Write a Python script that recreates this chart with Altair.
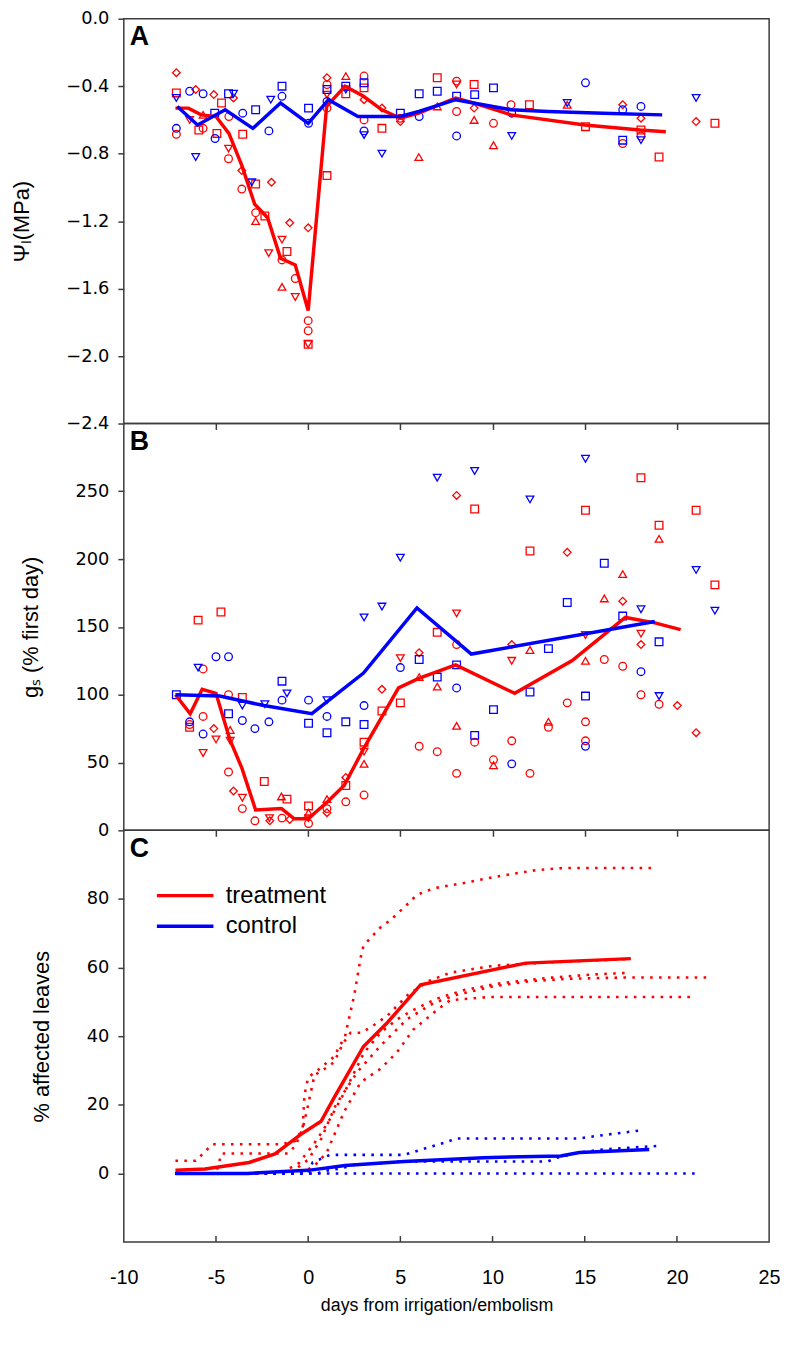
import altair as alt
import pandas as pd

RED = "#ff0000"
BLUE = "#0000ff"
FRAME = "#3c3c3c"
FONT = "Liberation Sans, Arial, Helvetica, sans-serif"
WIDE = "DejaVu Sans, Verdana, sans-serif"
NARROW = "Liberation Sans Narrow, Arial Narrow, Liberation Sans, sans-serif"

GROUPS = ["treatment", "control"]
SHAPE_NAMES = {"c": "circle", "s": "square", "d": "diamond", "u": "triangle-up", "v": "triangle-down"}
SHAPES = list(SHAPE_NAMES.values())

X_TICKS = [-10, -5, 0, 5, 10, 15, 20, 25]
X_INNER = [-5, 0, 5, 10, 15, 20]
A_TICKS = [0.0, -0.4, -0.8, -1.2, -1.6, -2.0, -2.4]
B_TICKS = [0, 50, 100, 150, 200, 250]
C_TICKS = [0, 20, 40, 60, 80]

# ---------------- Panel A : leaf water potential (MPa) ----------------
A_trt_x = [-7.15, -7.15, -7.15, -6.1, -6.43, -5.93, -5.7, -5.7, -5.12, -4.7,
           -4.95, -4.05, -4.3, -4.32, -4.32, -3.55, -3.6, -3.6, -2.85, -2.85,
           -2.85, -2.35, -1.99, -2.14, -1.42, -1.15, -1.42, -1.0, -1.42, -0.7,
           -0.7, 0.0, 0.0, 0.0, 0.0, 0.0, 1.02, 1.02, 1.02, 1.02,
           1.02, 2.04, 2.04, 3.03, 3.03, 3.03, 3.03, 4.0, 4.0, 5.0,
           5.0, 6.0, 7.0, 7.0, 8.05, 8.05, 8.05, 9.0, 9.0, 9.0,
           10.05, 10.05, 11.0, 12.0, 14.05, 15.04, 17.06, 17.06, 18.05, 18.05,
           18.05, 19.03, 21.04, 22.06]
A_trt_y = [-0.32, -0.44, -0.685, -0.42, -0.60, -0.66, -0.57, -0.65, -0.45, -0.50,
           -0.68, -0.47, -0.58, -0.77, -0.83, -0.685, -0.90, -1.01, -0.98, -1.20,
           -1.15, -1.17, -0.97, -1.39, -1.31, -1.38, -1.43, -1.21, -1.59, -1.54,
           -1.65, -1.24, -1.79, -1.85, -1.93, -1.93, -0.93, -0.35, -0.39, -0.45,
           -0.53, -0.34, -0.445, -0.34, -0.41, -0.48, -0.60, -0.53, -0.65, -0.61,
           -0.59, -0.82, -0.35, -0.52, -0.37, -0.39, -0.55, -0.39, -0.53, -0.60,
           -0.62, -0.75, -0.51, -0.51, -0.51, -0.64, -0.51, -0.74, -0.59, -0.66,
           -0.695, -0.82, -0.61, -0.62]
A_trt_s = ("dscdvsucds" "sdcvcsdcsu" "csdvvscduc" "vdccsvsdcv" "cuscsdcdsd"
           "cusucvcsdu" "cucsusdcds" "csds")

A_ctl_x = [-7.15, -7.15, -6.43, -5.7, -6.1, -5.07, -5.05, -4.32, -4.05, -3.55,
           -2.85, -3.06, -2.13, -2.03, -1.42, -1.42, 0.02, 0.02, 1.02, 1.02,
           2.04, 2.04, 3.03, 3.03, 3.03, 4.0, 5.0, 6.02, 6.02, 7.0,
           8.05, 8.05, 9.03, 10.05, 11.04, 11.04, 14.05, 15.04, 17.06, 17.06,
           18.05, 18.05, 21.04]
A_ctl_y = [-0.47, -0.65, -0.43, -0.445, -0.82, -0.56, -0.71, -0.445, -0.445, -0.56,
           -0.54, -0.97, -0.665, -0.48, -0.40, -0.46, -0.53, -0.62, -0.42, -0.49,
           -0.40, -0.42, -0.38, -0.665, -0.69, -0.80, -0.56, -0.445, -0.58, -0.43,
           -0.46, -0.695, -0.45, -0.41, -0.56, -0.695, -0.50, -0.38, -0.54, -0.72,
           -0.52, -0.72, -0.47]
A_ctl_s = "vcccvscsvc" "svcvscscsc" "svscvvsscs" "scsscvvccs" "cvv"

A_trt_mean_x = [-7.2, -6.5, -5.8, -5.0, -4.3, -3.6, -2.9, -2.2, -1.5, -0.7, 0.0, 1.0,
                2.0, 3.0, 4.0, 5.0, 6.0, 8.0, 9.0, 11.0, 15.0, 18.0, 19.4]
A_trt_mean_y = [-0.53, -0.53, -0.57, -0.58, -0.68, -0.87, -1.10, -1.18, -1.42, -1.46,
                -1.73, -0.52, -0.40, -0.46, -0.54, -0.59, -0.56, -0.47, -0.50, -0.57,
                -0.63, -0.66, -0.67]
A_ctl_mean_x = [-7.1, -6.0, -4.5, -3.0, -1.5, 0.0, 1.1, 2.7, 5.0, 6.0, 8.0, 11.0, 13.0, 16.0, 19.2]
A_ctl_mean_y = [-0.52, -0.63, -0.54, -0.65, -0.50, -0.62, -0.48, -0.58, -0.58, -0.55,
                -0.48, -0.54, -0.55, -0.56, -0.57]

# ---------------- Panel B : stomatal conductance (% first day) ----------------
B_trt_x = [-5.97, -4.73, -5.7, -6.43, -5.7, -5.12, -5.0, -5.7, -6.43, -4.32,
           -4.23, -4.23, -3.57, -4.32, -4.05, -3.57, -3.57, -2.38, -2.89, -2.08,
           -2.1, -1.15, -1.45, -1.42, -1.0, 0.02, 0.02, 0.02, 0.02, 1.02,
           1.02, 1.02, 2.04, 2.04, 2.04, 3.03, 3.03, 3.03, 3.03, 4.0,
           4.0, 5.0, 5.0, 6.02, 6.02, 6.02, 7.0, 7.0, 7.0, 8.05,
           8.05, 8.05, 8.05, 8.05, 9.03, 9.03, 10.05, 10.05, 11.04, 11.04,
           11.04, 12.03, 12.03, 12.03, 14.05, 14.05, 13.03, 13.03, 15.04, 15.04,
           15.04, 15.04, 15.04, 16.06, 16.06, 17.06, 17.06, 17.06, 18.05, 18.05,
           18.05, 18.05, 19.03, 19.03, 19.03, 20.02, 21.04, 21.04, 22.06]
B_trt_y = [155, 161, 119, 78, 84, 75, 67, 57, 76, 100,
           74, 66, 98, 43, 29, 24, 16, 36, 7, 7,
           9, 23, 25, 9, 8, 18, 13, 5, 9, 23,
           16, 13, 21, 39, 33, 26, 49, 58, 65, 104,
           88, 94, 127, 131, 113, 62, 58, 146, 106, 160,
           247, 137, 77, 42, 237, 65, 52, 48, 66, 125,
           137, 206, 133, 42, 205, 94, 80, 76, 236, 125,
           80, 66, 144, 171, 126, 189, 169, 121, 260, 145,
           137, 100, 225, 215, 93, 92, 236, 72, 181]
B_trt_s = ("sscccdvvsc" "uvscdvcscd" "vsucdsucvu" "cdcdscuvsd" "ssvduccsuv"
           "dcucsccucv" "dsucdcucsu" "ccvucudcsv" "dcsucdsds")

B_ctl_x = [-7.15, -6.43, -5.97, -5.7, -5.0, -4.32, -4.32, -3.57, -3.57, -2.89,
           -1.42, -1.15, -1.42, -2.35, -2.13, 0.02, 0.02, 1.02, 1.02, 1.02,
           2.04, 3.03, 3.03, 3.03, 4.0, 5.0, 5.0, 6.02, 7.0, 7.0,
           9.03, 8.05, 8.05, 9.03, 10.05, 11.04, 12.03, 12.03, 13.03, 14.05,
           15.04, 15.04, 15.04, 16.06, 17.06, 18.05, 18.05, 19.03, 19.03, 21.04,
           22.06]
B_ctl_y = [100, 80, 120, 71, 128, 128, 86, 81, 92, 75,
           110, 101, 96, 93, 80, 96, 79, 72, 84, 96,
           80, 78, 92, 157, 165, 201, 120, 126, 113, 260,
           265, 122, 105, 70, 89, 49, 244, 102, 134, 168,
           274, 99, 62, 197, 158, 117, 163, 139, 99, 192,
           162]
B_ctl_s = "scvcccscvc" "svcvccsscv" "sscvvvcssv" "vscsscvsss" "vscsscvsvv" "v"

B_trt_mean_x = [-7.2, -6.4, -5.75, -5.0, -4.25, -3.6, -2.85, -1.45, -0.75, 0.0, 1.05,
                1.95, 3.0, 4.9, 6.0, 8.0, 11.2, 14.3, 17.2, 18.8, 20.2]
B_trt_mean_y = [100, 86, 104, 101, 67, 46, 15, 16, 8.5, 8.5, 21,
                33, 60, 105, 112, 122, 101, 125, 157, 153, 148]
B_ctl_mean_x = [-7.2, -4.8, -2.4, 0.2, 3.0, 5.9, 8.85, 18.8]
B_ctl_mean_y = [100, 99, 92, 86, 116, 164, 130, 154]

# ---------------- Panel C : % affected leaves ----------------
C_trt_mean_x = [-7.2, -5.6, -3.2, -1.8, -0.4, 0.7, 1.4, 3.0, 4.3, 6.1, 11.8, 17.5]
C_trt_mean_y = [0.9, 1.3, 3.2, 5.7, 11.4, 15.2, 22, 37, 44, 55, 61.3, 62.6]
C_ctl_mean_x = [-7.2, -3.3, 0.0, 2.0, 5.2, 9.5, 13.7, 14.7, 18.5]
C_ctl_mean_y = [0, 0, 0.9, 2.3, 3.5, 4.6, 5.1, 6.1, 7.0]

# individual treatment plants (dotted)
R1_x = [-7.2, -6.1, -5.66, -5.2, -1.45, -0.7, -0.3, -0.2, 0.0, 0.5, 1.4, 2.0, 2.5, 2.85,
        3.0, 3.9, 4.5, 5.45, 5.9, 6.8, 8.4, 10.2, 12.35, 13.8, 18.8]
R1_y = [3.7, 3.7, 6.0, 8.5, 8.5, 9.5, 13, 23, 28, 30, 34, 40, 52, 63,
        66.4, 71.6, 74, 78.8, 81.2, 83.1, 84.6, 86.5, 88.4, 89, 89]
R2_x = [-7.2, -5.0, -4.7, -1.1, -0.7, -0.3, 0.0, 0.34, 0.9, 1.4, 1.9, 2.3, 2.9, 3.5,
        4.3, 5.4, 6.5, 7.7, 10.0, 13.0, 17.5]
R2_y = [0, 0, 5.8, 5.8, 8, 13, 20, 28.6, 30.5, 32.4, 38, 41, 41, 43,
        46, 52, 56, 58.5, 60.5, 61.5, 62.5]
R3_x = [-7.2, -0.5, 0.3, 1.0, 1.95, 2.85, 3.9, 4.8, 5.7, 7.0, 7.7, 9.8, 20.8]
R3_y = [0, 0, 2, 6, 18, 26.6, 30.4, 35.2, 41.9, 47.7, 50.5, 51.4, 51.4]
R4_x = [-7.2, -1.0, 0.0, 0.7, 1.5, 2.67, 3.92, 5.35, 6.79, 8.0, 10.0, 12.0, 14.0, 17.0, 21.9]
R4_y = [0, 0, 4, 10, 20, 29.6, 37.2, 44.9, 49.6, 52, 54.5, 56, 56.7, 57.1, 57.1]
R5_x = [-7.2, -1.5, -0.5, 0.5, 1.2, 2.0, 3.03, 3.92, 4.82, 5.72, 7.0, 8.5, 10.5, 13.0, 15.5, 17.5]
R5_y = [0, 0, 3, 10, 16, 24, 35.2, 41, 44.9, 47.7, 51, 53.5, 55.5, 57, 58, 58.5]

# individual control plants (dotted)
K1_x = [-7.2, 0.0, 0.24, 1.18, 5.2, 6.17, 7.35, 8.06, 14.7, 15.6, 17.98]
K1_y = [0, 0, 3.2, 5.4, 5.4, 7.0, 8.9, 10.2, 10.2, 10.9, 12.5]
K2_x = [-7.2, 21.0]
K2_y = [0, 0]
K3_x = [-7.2, 0.5, 1.0, 1.8, 2.5, 5.2, 13.0, 13.5, 14.7, 16.0, 18.9]
K3_y = [0, 0, 0.8, 1.5, 2.5, 3.5, 3.5, 4.6, 6.1, 7.0, 8.0]

H_A, H_B, H_C = 409, 411, 416
W = 652


def points(xs, ys, codes, group):
    return pd.DataFrame({"x": xs, "y": ys,
                         "shape": [SHAPE_NAMES[c] for c in codes],
                         "group": group})


def means(xs, ys, group):
    return pd.DataFrame({"x": xs, "y": ys, "group": group, "i": list(range(len(xs)))})


def plants(pairs):
    rows = []
    for name, (xs, ys) in pairs.items():
        for i, (a, b) in enumerate(zip(xs, ys)):
            rows.append({"x": a, "y": b, "plant": name, "i": i})
    return pd.DataFrame(rows)


color_scale = alt.Scale(domain=GROUPS, range=[RED, BLUE])
shape_scale = alt.Scale(domain=SHAPES, range=SHAPES)
x_scale = alt.Scale(domain=[-10, 25], nice=False, zero=False)

x_axis_hidden = alt.Axis(title=None, labels=False, values=X_INNER, tickSize=6, tickWidth=1.5,
                         tickColor=FRAME, domain=False, grid=False)
x_axis_c = alt.Axis(title="days from irrigation/embolism", values=X_TICKS, ticks=False,
                    domain=False, grid=False, labelExpr="toString(datum.value)",
                    labelFontSize=20, labelPadding=26, labelFlush=False, labelFont=FONT,
                    titleFont=FONT, titleFontSize=18, titleFontWeight="normal",
                    titlePadding=9, titleX=W / 2 - 10, titleAlign="center",
                    labelColor="black", titleColor="black")


def y_axis(title, values, fmt):
    return alt.Axis(title=title, values=values, format=fmt, grid=False, domain=False,
                    tickSize=6, tickWidth=1.5, tickColor=FRAME, labelFontSize=18,
                    labelFont=WIDE, labelPadding=9, labelColor="black",
                    titlePadding=33, titleFont=NARROW, titleFontSize=22,
                    titleFontWeight="normal", titleColor="black")


def letter(t):
    return alt.Chart(pd.DataFrame({"t": [t]})).mark_text(
        fontSize=27, fontWeight="bold", align="left", baseline="top", font=FONT, color="black"
    ).encode(x=alt.value(6), y=alt.value(6), text="t:N")


def scatter_line_panel(pts_df, mean_df, y_scale, yax, h, lab):
    xe = alt.X("x:Q", scale=x_scale, axis=x_axis_hidden)
    ye = alt.Y("y:Q", scale=y_scale, axis=yax)
    sc = alt.Chart(pts_df).mark_point(filled=False, size=60, strokeWidth=1.3, opacity=1).encode(
        x=xe, y=ye,
        color=alt.Color("group:N", scale=color_scale, legend=None),
        shape=alt.Shape("shape:N", scale=shape_scale, legend=None),
    )
    ln = alt.Chart(mean_df).mark_line(strokeWidth=3.5, clip=True).encode(
        x=xe, y=ye,
        color=alt.Color("group:N", scale=color_scale, legend=None),
        order="i:Q",
    )
    return alt.layer(sc, ln, letter(lab)).properties(width=W, height=h)


# Panel A
ptsA = pd.concat([points(A_trt_x, A_trt_y, A_trt_s, "treatment"),
                  points(A_ctl_x, A_ctl_y, A_ctl_s, "control")])
meanA = pd.concat([means(A_trt_mean_x, A_trt_mean_y, "treatment"),
                   means(A_ctl_mean_x, A_ctl_mean_y, "control")])
panelA = scatter_line_panel(ptsA, meanA, alt.Scale(domain=[-2.4, 0], nice=False, zero=False),
                            y_axis("Ψₗ(MPa)", A_TICKS, ".1f"), H_A, "A")

# Panel B
ptsB = pd.concat([points(B_trt_x, B_trt_y, B_trt_s, "treatment"),
                  points(B_ctl_x, B_ctl_y, B_ctl_s, "control")])
meanB = pd.concat([means(B_trt_mean_x, B_trt_mean_y, "treatment"),
                   means(B_ctl_mean_x, B_ctl_mean_y, "control")])
panelB = scatter_line_panel(ptsB, meanB, alt.Scale(domain=[0, 300], nice=False),
                            y_axis("gₛ (% first day)", B_TICKS, "d"), H_B, "B")

# Panel C
yC_scale = alt.Scale(domain=[-20, 100], nice=False, zero=False)
yC_axis = y_axis("% affected leaves", C_TICKS, "d")
xC = alt.X("x:Q", scale=x_scale, axis=x_axis_c)
yC = alt.Y("y:Q", scale=yC_scale, axis=yC_axis)

red_plants = plants({"r1": (R1_x, R1_y), "r2": (R2_x, R2_y), "r3": (R3_x, R3_y),
                     "r4": (R4_x, R4_y), "r5": (R5_x, R5_y)})
blue_plants = plants({"k1": (K1_x, K1_y), "k2": (K2_x, K2_y), "k3": (K3_x, K3_y)})
meanC = pd.concat([means(C_trt_mean_x, C_trt_mean_y, "treatment"),
                   means(C_ctl_mean_x, C_ctl_mean_y, "control")])

dotted_red = alt.Chart(red_plants).mark_line(color=RED, strokeWidth=2.6, strokeDash=[2.6, 6.4]).encode(
    x=xC, y=yC, detail="plant:N", order="i:Q")
dotted_blue = alt.Chart(blue_plants).mark_line(color=BLUE, strokeWidth=2.6, strokeDash=[2.6, 6.4]).encode(
    x=xC, y=yC, detail="plant:N", order="i:Q")
mean_lines_c = alt.Chart(meanC).mark_line(strokeWidth=3.5).encode(
    x=xC, y=yC, order="i:Q",
    color=alt.Color("group:N", scale=color_scale,
                    legend=alt.Legend(title=None, orient="none", legendX=47, legendY=51,
                                      symbolType="M-2.2,0L2.2,0", symbolSize=676,
                                      symbolStrokeWidth=3.5, labelFontSize=24, labelFont=FONT,
                                      labelOffset=26, rowPadding=4, padding=0,
                                      labelColor="black")),
)
inner_ticks = alt.Chart(pd.DataFrame({"x": X_INNER})).mark_rule(color=FRAME, strokeWidth=1.5).encode(
    x=xC, y=alt.value(H_C - 6), y2=alt.value(H_C))

panelC = alt.layer(dotted_red, dotted_blue, mean_lines_c, inner_ticks, letter("C")).properties(
    width=W, height=H_C)

chart = alt.vconcat(panelA, panelB, panelC, spacing=0, bounds="flush").resolve_scale(
    color="independent", shape="independent"
).properties(
    padding={"left": 1, "top": -6, "right": 0, "bottom": 5}
).configure_view(stroke=FRAME, strokeWidth=1.5)

chart.save("out.html", embed_options={"renderer": "svg", "actions": False})
